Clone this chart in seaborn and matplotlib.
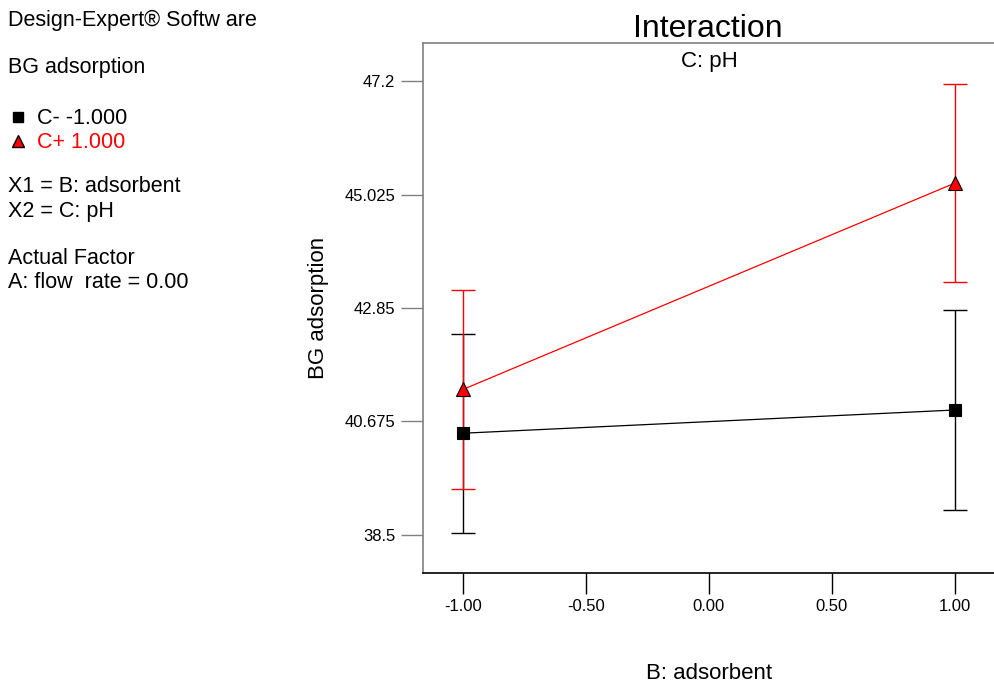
import numpy as np
import pandas as pd
import seaborn as sns
import matplotlib.pyplot as plt
from matplotlib.lines import Line2D

# data
adsorbent = [-1.0, 1.0]
c_minus = [40.45, 40.895]
c_plus = [41.29, 45.245]
c_minus_err = [1.91, 1.91]
c_plus_err = [1.905, 1.905]
xticks = [-1.0, -0.5, 0.0, 0.5, 1.0]
yticks = [38.5, 40.675, 42.85, 45.025, 47.2]

df = pd.DataFrame({
    "B: adsorbent": adsorbent * 2,
    "BG adsorption": c_minus + c_plus,
    "err": c_minus_err + c_plus_err,
    "C": ["C- -1.000"] * 2 + ["C+ 1.000"] * 2,
})

sns.set_style("white")
plt.rcParams['font.family'] = ['Liberation Sans', 'DejaVu Sans']
plt.rcParams.update({"text.color": "black", "axes.labelcolor": "black",
                     "xtick.labelcolor": "black", "ytick.labelcolor": "black"})

fig = plt.figure(figsize=(9.95, 6.87), dpi=100)
ax = fig.add_axes([0.4251, 0.1659, 0.5749, 0.7715])

colors = {"C- -1.000": "black", "C+ 1.000": "red"}
markers = {"C- -1.000": "s", "C+ 1.000": "^"}
msizes = {"C- -1.000": 8, "C+ 1.000": 10}

sns.lineplot(data=df, x="B: adsorbent", y="BG adsorption", hue="C",
             style="C", palette=colors, markers=markers, dashes=False,
             linewidth=0.9, legend=False, ax=ax, zorder=3,
             markeredgecolor="black", markeredgewidth=0.8)
for line, lvl in zip(ax.lines[:2], df["C"].unique()):
    line.set_markerfacecolor(colors[lvl])
    line.set_markersize(msizes[lvl])

# error bars
for lvl, sub in df.groupby("C", sort=False):
    ax.errorbar(sub["B: adsorbent"], sub["BG adsorption"], yerr=sub["err"],
                fmt="none", ecolor=colors[lvl], elinewidth=1.0,
                capsize=8.3, capthick=1.0, zorder=2)

ax.set_xlim(-1.163, 1.163)
ax.set_ylim(37.77, 47.93)
ax.set_xticks(xticks)
ax.set_xticklabels([f"{v:.2f}" for v in xticks], fontsize=12)
ax.set_yticks(yticks)
ax.set_yticklabels([f"{v:g}" for v in yticks], fontsize=12)
ax.tick_params(axis="x", direction="out", length=15, width=1, color="black", pad=4, bottom=True)
ax.tick_params(axis="y", direction="out", length=16, width=1, color="#808080", pad=4, left=True)

ax.spines["right"].set_visible(False)
ax.spines["left"].set_color("#808080")
ax.spines["top"].set_color("#808080")
ax.spines["bottom"].set_color("black")
for s in ["left", "top", "bottom"]:
    ax.spines[s].set_linewidth(1.2)

ax.set_xlabel("B: adsorbent", fontsize=16, labelpad=35)
ax.set_ylabel("BG adsorption", fontsize=16, labelpad=11)
ax.text(0.0, 0.985, "C: pH", transform=ax.get_xaxis_transform(), ha="center", va="top", fontsize=16)
fig.text(708 / 995, 1 - 29 / 687, "Interaction", ha="center", va="center", fontsize=23)

# left info panel
fs = 15.5
fig.text(8 / 995, 1 - 20 / 687, "Design-Expert® Softw are", fontsize=fs, va="center")
fig.text(8 / 995, 1 - 68 / 687, "BG adsorption", fontsize=fs, va="center")
fig.text(8 / 995, 1 - 187 / 687, "X1 = B: adsorbent", fontsize=fs, va="center")
fig.text(8 / 995, 1 - 211 / 687, "X2 = C: pH", fontsize=fs, va="center")
fig.text(8 / 995, 1 - 259 / 687, "Actual Factor", fontsize=fs, va="center")
fig.text(8 / 995, 1 - 283 / 687, "A: flow  rate = 0.00", fontsize=fs, va="center")

handles = [Line2D([], [], ls="none", marker="s", color="black", markersize=6.5),
           Line2D([], [], ls="none", marker="^", markerfacecolor="red",
                  markeredgecolor="black", markersize=8)]
fig.legend(handles, list(colors.keys()), loc="upper left",
           bbox_to_anchor=(-6 / 995, 1 - 93 / 687), frameon=False,
           fontsize=fs, labelcolor=["black", "red"], handlelength=0.8,
           handletextpad=0.5, labelspacing=0.15, borderpad=0.2)

fig.savefig("out.png", dpi=100)
